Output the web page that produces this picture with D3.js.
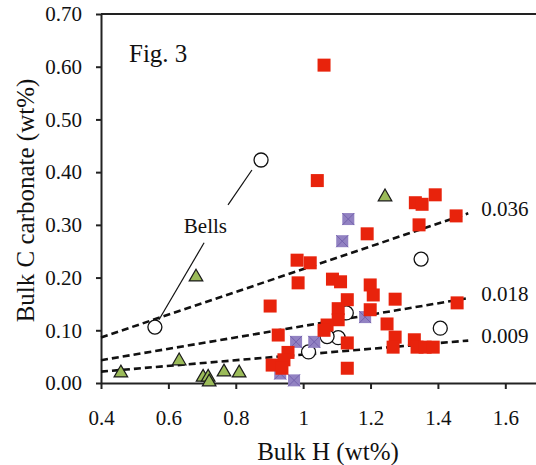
<!DOCTYPE html>
<html>
<head>
<meta charset="utf-8">
<script src="https://cdn.jsdelivr.net/npm/d3@7"></script>
<style>
  body { margin: 0; background: #fff; }
  svg text { font-family: "Liberation Serif", "Tinos", "Times New Roman", Times, "DejaVu Serif", serif !important; fill: #111; }
</style>
</head>
<body>
<div id="chart"></div>
<script>
// values: [Bulk H wt%, Bulk C carbonate wt%]
var redSquares = [
    [1.062,0.603],[1.042,0.384],
    [1.333,0.342],[1.353,0.339],[1.392,0.357],[1.344,0.300],[1.454,0.317],
    [1.190,0.283],[0.982,0.233],[1.021,0.228],[0.985,0.190],[0.902,0.146],
    [1.087,0.197],[1.111,0.192],[1.199,0.186],[1.208,0.167],[1.131,0.158],
    [1.273,0.159],[1.457,0.152],[1.104,0.141],[1.104,0.120],[1.071,0.110],
    [1.062,0.100],[1.199,0.139],[0.926,0.091],[1.249,0.112],[1.273,0.087],
    [1.267,0.068],[1.330,0.082],[1.338,0.068],[1.362,0.068],[1.386,0.068],
    [1.131,0.076],[0.955,0.058],[0.943,0.044],[0.908,0.034],[0.937,0.028],
    [1.131,0.028]
];
var openCircles = [
    [0.875,0.423],[0.560,0.106],[1.350,0.235],[1.407,0.104],
    [1.128,0.133],[1.104,0.086],[1.071,0.088],[1.016,0.059]
];
var purpleSquares = [
    [1.134,0.311],[1.116,0.269],[1.184,0.125],[0.979,0.078],
    [1.033,0.078],[0.932,0.018],[0.973,0.005]
];
var greenTriangles = [
    [0.682,0.201],[0.459,0.019],[0.632,0.042],[0.703,0.011],[0.718,0.011],
    [0.721,0.002],[0.765,0.021],[0.810,0.019],[1.243,0.353]
];
// dashed reference lines (label, slope of C vs H)
var refLabels = ["0.036", "0.018", "0.009"];
var refSlopes = [0.216, 0.108, 0.054];
var refRange = [0.4, 1.49];

var xTicks = [0.4, 0.6, 0.8, 1.0, 1.2, 1.4, 1.6];
var xTickLabels = ["0.4", "0.6", "0.8", "1", "1.2", "1.4", "1.6"];
var yTicks = [0, 0.1, 0.2, 0.3, 0.4, 0.5, 0.6, 0.7];
var yTickLabels = ["0.00", "0.10", "0.20", "0.30", "0.40", "0.50", "0.60", "0.70"];

// "Bells" leader lines
var bellsLines = [
    [[0.848,0.404],[0.777,0.338]],
    [[0.572,0.120],[0.706,0.266]]
];

function main() {
    const margin = {top: 14, right: 0, bottom: 82, left: 101},
    width = 438,
    height = 369;

    const svg = d3.select("#chart")
    .append("svg")
    .attr("width", 536)
    .attr("height", 465)
    .append("g")
    .attr("transform", `translate(${margin.left}, ${margin.top})`);

    var x = d3.scaleLinear().domain([0.4, 1.7]).range([0, width]);
    var y = d3.scaleLinear().domain([0, 0.7]).range([height, 0]);

    // top frame line
    svg.append("line")
        .attr("x1", 0).attr("x2", width)
        .attr("y1", 0).attr("y2", 0)
        .attr("stroke", "#222").attr("stroke-width", 2);

    // X axis
    var xAxis = svg.append("g")
        .attr("transform", `translate(0, ${height})`)
        .call(d3.axisBottom(x).tickValues(xTicks)
            .tickFormat((d, i) => xTickLabels[i])
            .tickSize(6).tickSizeOuter(0).tickPadding(21));

    // Y axis
    var yAxis = svg.append("g")
        .call(d3.axisLeft(y).tickValues(yTicks)
            .tickFormat((d, i) => yTickLabels[i])
            .tickSize(5).tickSizeOuter(0).tickPadding(14));

    svg.selectAll(".domain, .tick line")
        .attr("stroke", "#222").attr("stroke-width", 2);
    svg.selectAll(".tick text")
        .style("font-size", "21px")
        .attr("fill", "#111");

    // axis titles
    svg.append("text")
        .attr("text-anchor", "middle")
        .attr("x", 227)
        .attr("y", height + 77)
        .style("font-size", "25px")
        .text("Bulk H (wt%)");

    svg.append("text")
        .attr("text-anchor", "middle")
        .attr("transform", "rotate(-90)")
        .attr("x", -height / 2 - 2)
        .attr("y", -margin.left + 34)
        .style("font-size", "25px")
        .text("Bulk C carbonate (wt%)");

    svg.append("text")
        .attr("x", 28)
        .attr("y", 48)
        .style("font-size", "25px")
        .text("Fig. 3");

    // dashed reference lines
    var refs = refSlopes.map((s, i) => ({label: refLabels[i], slope: s}));
    svg.selectAll(".ref")
        .data(refs)
        .enter()
        .append("line")
        .attr("class", "ref")
        .attr("x1", d => x(refRange[0]))
        .attr("y1", d => y(d.slope * refRange[0]))
        .attr("x2", d => x(refRange[1]))
        .attr("y2", d => y(d.slope * refRange[1]))
        .attr("stroke", "#111")
        .attr("stroke-width", 2.6)
        .attr("stroke-dasharray", "7,4");

    svg.selectAll(".refLabel")
        .data(refs)
        .enter()
        .append("text")
        .attr("x", x(refRange[1]) + 13)
        .attr("y", d => y(d.slope * refRange[1]) - 4)
        .attr("dy", "0.32em")
        .style("font-size", "21px")
        .text(d => d.label);

    // Bells annotation
    svg.selectAll(".bells")
        .data(bellsLines)
        .enter()
        .append("line")
        .attr("x1", d => x(d[0][0])).attr("y1", d => y(d[0][1]))
        .attr("x2", d => x(d[1][0])).attr("y2", d => y(d[1][1]))
        .attr("stroke", "#111").attr("stroke-width", 1.2);

    svg.append("text")
        .attr("text-anchor", "middle")
        .attr("x", x(0.71))
        .attr("y", y(0.285))
        .style("font-size", "21px")
        .text("Bells");

    // open circles
    svg.selectAll(".circ")
        .data(openCircles)
        .enter()
        .append("circle")
        .attr("cx", d => x(d[0]))
        .attr("cy", d => y(d[1]))
        .attr("r", 7)
        .attr("fill", "#fff")
        .attr("stroke", "#111")
        .attr("stroke-width", 1.3);

    // green triangles
    var tri = d3.symbol().type(d3.symbolTriangle).size(80);
    svg.selectAll(".tri")
        .data(greenTriangles)
        .enter()
        .append("path")
        .attr("d", tri)
        .attr("transform", d => `translate(${x(d[0])}, ${y(d[1])})`)
        .attr("fill", "#9bbb59")
        .attr("stroke", "#1a1a1a")
        .attr("stroke-width", 1.2);

    // purple squares with a cross
    var ps = 12;
    var purple = svg.selectAll(".psq")
        .data(purpleSquares)
        .enter()
        .append("g")
        .attr("transform", d => `translate(${x(d[0])}, ${y(d[1])})`);
    purple.append("rect")
        .attr("x", -ps / 2).attr("y", -ps / 2)
        .attr("width", ps).attr("height", ps)
        .attr("fill", "#9282c2");
    purple.append("path")
        .attr("d", `M${-ps/2},${-ps/2}L${ps/2},${ps/2}M${ps/2},${-ps/2}L${-ps/2},${ps/2}`)
        .attr("stroke", "#7462ad")
        .attr("stroke-width", 1);

    // red squares
    var rs = 13;
    svg.selectAll(".rsq")
        .data(redSquares)
        .enter()
        .append("rect")
        .attr("x", d => x(d[0]) - rs / 2)
        .attr("y", d => y(d[1]) - rs / 2)
        .attr("width", rs)
        .attr("height", rs)
        .attr("fill", "#e8230c");
}

main();
</script>
</body>
</html>
